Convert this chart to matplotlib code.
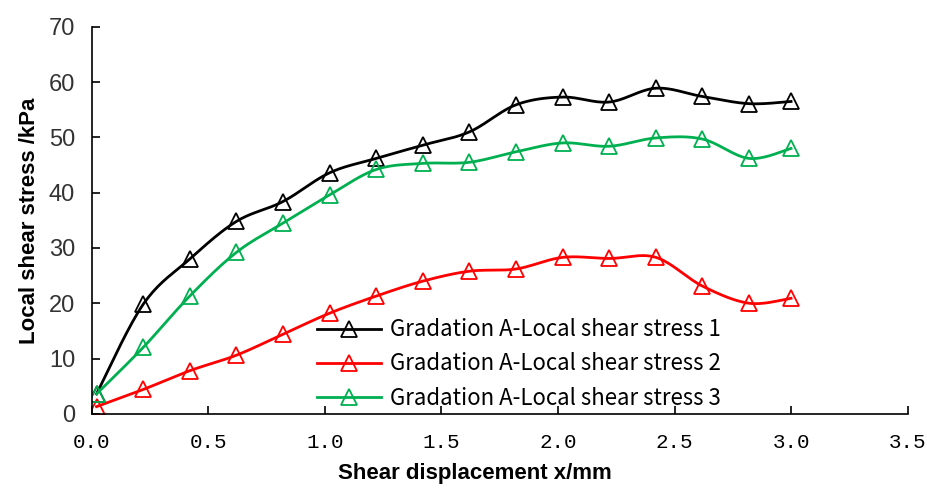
import numpy as np
import matplotlib.pyplot as plt

x = [0.02, 0.22, 0.42, 0.62, 0.82, 1.02, 1.22, 1.42, 1.62, 1.82, 2.02, 2.22, 2.42, 2.62, 2.82, 3.0]
stress1 = [3.6, 19.8, 28.0, 34.8, 38.4, 43.6, 46.2, 48.6, 51.0, 55.9, 57.3, 56.4, 58.9, 57.4, 56.1, 56.5]
stress2 = [1.3, 4.4, 7.8, 10.6, 14.4, 18.2, 21.3, 24.0, 25.8, 26.2, 28.3, 28.1, 28.3, 23.1, 20.0, 20.9]
stress3 = [3.6, 12.0, 21.3, 29.2, 34.5, 39.6, 44.2, 45.3, 45.5, 47.4, 49.0, 48.4, 49.9, 49.7, 46.2, 48.0]
labels = ['Gradation A-Local shear stress 1',
          'Gradation A-Local shear stress 2',
          'Gradation A-Local shear stress 3']
colors = ['#000000', '#ff0000', '#00b050']


def smooth(xs, ys, n=20):
    # catmull-rom through the points, like excel's smoothed line
    p = np.column_stack([xs, ys])
    p = np.vstack([p[0], p, p[-1]])
    t = np.linspace(0, 1, n)[:, None]
    out = []
    for i in range(1, len(p) - 2):
        p0, p1, p2, p3 = p[i - 1], p[i], p[i + 1], p[i + 2]
        seg = 0.5 * ((2 * p1) + (-p0 + p2) * t + (2 * p0 - 5 * p1 + 4 * p2 - p3) * t ** 2
                     + (-p0 + 3 * p1 - 3 * p2 + p3) * t ** 3)
        out.append(seg if i == 1 else seg[1:])
    out = np.vstack(out)
    return out[:, 0], out[:, 1]


fig = plt.figure(figsize=(9.28, 4.88), dpi=100)
ax = fig.add_axes([0.099, 0.152, 0.879, 0.793])

for ys, c, lab in zip([stress1, stress2, stress3], colors, labels):
    sx, sy = smooth(x, ys)
    ax.plot(sx, sy, '-', color=c, lw=2.0)
    ax.plot(x, ys, '^', color=c, mfc='none', mew=1.3, ms=11)
    ax.plot([], [], '-^', color=c, lw=2.0, mfc='none', mew=1.3, ms=11, label=lab)

ax.set_xlim(0, 3.5)
ax.set_ylim(0, 70)
ax.set_xticks(np.arange(0, 3.51, 0.5))
ax.set_yticks(np.arange(0, 71, 10))
ax.set_xticklabels(['%.1f' % v for v in np.arange(0, 3.51, 0.5)],
                   family='Liberation Mono', fontsize=15)
ax.set_yticklabels([str(v) for v in range(0, 71, 10)],
                   family='Liberation Sans', fontsize=17, color='#333333')
ax.tick_params(direction='in', length=6, width=1.2)
ax.tick_params(axis='x', pad=14)
ax.tick_params(axis='y', pad=12)
ax.spines['top'].set_visible(False)
ax.spines['right'].set_visible(False)
ax.spines['left'].set_linewidth(1.2)
ax.spines['bottom'].set_linewidth(1.2)

ax.set_ylabel('Local shear stress /kPa', fontsize=16, fontweight='bold', family='Liberation Sans')
ax.set_xlabel('Shear displacement x/mm', fontsize=16, fontweight='bold', family='Liberation Sans')
ax.yaxis.set_label_coords(-0.064, 0.5)
ax.xaxis.set_label_coords(0.47, -0.128)

ax.legend(loc='lower left', bbox_to_anchor=(0.265, -0.012), frameon=False,
          prop={'family': 'Noto Sans CJK SC', 'size': 16},
          handlelength=2.9, handletextpad=0.4, labelspacing=0.5, borderaxespad=0)

fig.savefig('out.png', dpi=100)
